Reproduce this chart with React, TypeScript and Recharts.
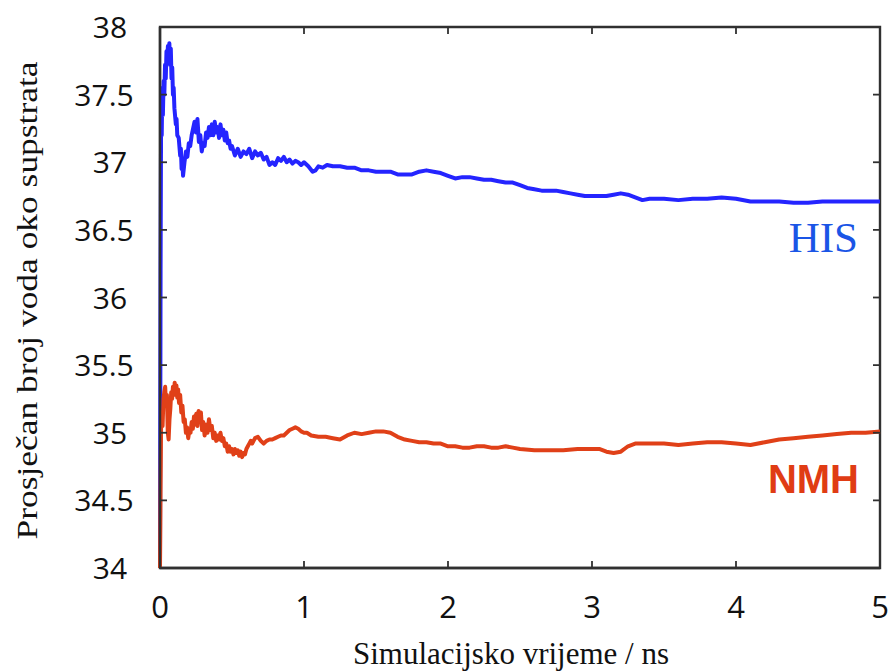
import { Line, LineChart, ReferenceArea, ReferenceDot, XAxis, YAxis } from 'recharts'

const X_TICKS = [0, 1, 2, 3, 4, 5]
const Y_TICKS = [34, 34.5, 35, 35.5, 36, 36.5, 37, 37.5, 38]

// HIS: simulation time (ns) and mean number of waters
const HIS_TIME = [
  0, 0.004, 0.008, 0.012, 0.016, 0.02, 0.025, 0.03, 0.035, 0.04, 0.045, 0.05, 0.055, 0.06, 0.065, 0.07, 0.075,
  0.08, 0.085, 0.09, 0.095, 0.1, 0.11, 0.115, 0.12, 0.13, 0.14, 0.145, 0.15, 0.155, 0.16, 0.17, 0.18, 0.19, 0.2,
  0.21, 0.22, 0.23, 0.24, 0.25, 0.26, 0.27, 0.28, 0.29, 0.3, 0.31, 0.32, 0.33, 0.34, 0.35, 0.36, 0.37, 0.38,
  0.39, 0.4, 0.41, 0.42, 0.43, 0.44, 0.45, 0.46, 0.47, 0.48, 0.49, 0.5, 0.52, 0.54, 0.56, 0.58, 0.6, 0.62, 0.64,
  0.66, 0.68, 0.7, 0.72, 0.74, 0.76, 0.78, 0.8, 0.82, 0.84, 0.86, 0.88, 0.9, 0.92, 0.94, 0.96, 0.98, 1.0, 1.03,
  1.06, 1.08, 1.1, 1.13, 1.16, 1.2, 1.25, 1.3, 1.35, 1.4, 1.45, 1.5, 1.55, 1.6, 1.65, 1.7, 1.75, 1.8, 1.85, 1.9,
  1.95, 2.0, 2.05, 2.1, 2.15, 2.2, 2.25, 2.3, 2.35, 2.4, 2.45, 2.5, 2.55, 2.6, 2.65, 2.7, 2.75, 2.8, 2.85, 2.9,
  2.95, 3.0, 3.05, 3.1, 3.15, 3.2, 3.25, 3.3, 3.35, 3.4, 3.5, 3.6, 3.7, 3.8, 3.9, 4.0, 4.1, 4.2, 4.3, 4.4, 4.5,
  4.6, 4.7, 4.8, 4.9, 5.0,
]
const HIS_WATERS = [
  34.0, 36.2, 37.45, 37.2, 37.55, 37.35, 37.6, 37.5, 37.72, 37.62, 37.82, 37.75, 37.86, 37.78, 37.88, 37.72, 37.84,
  37.62, 37.7, 37.5, 37.55, 37.4, 37.28, 37.32, 37.2, 37.18, 37.05, 37.1, 36.95, 37.02, 36.9, 37.0, 37.08, 37.04, 37.14,
  37.12, 37.2, 37.25, 37.3, 37.22, 37.32, 37.15, 37.2, 37.08, 37.14, 37.12, 37.22, 37.18, 37.26, 37.2, 37.28, 37.2, 37.3,
  37.22, 37.26, 37.18, 37.28, 37.2, 37.24, 37.16, 37.22, 37.14, 37.16, 37.1, 37.12, 37.05, 37.1, 37.04, 37.08, 37.06, 37.1, 37.03,
  37.08, 37.05, 37.07, 37.02, 37.04, 36.98, 37.0, 36.98, 37.03, 37.01, 37.04, 37.0, 37.02, 36.99, 37.01, 37.0, 36.98, 37.0, 36.97,
  36.93, 36.94, 36.97, 36.96, 36.98, 36.97, 36.97, 36.96, 36.96, 36.94, 36.94, 36.93, 36.93, 36.93, 36.91, 36.91, 36.91, 36.93, 36.94, 36.93,
  36.92, 36.9, 36.88, 36.89, 36.89, 36.88, 36.87, 36.87, 36.86, 36.85, 36.85, 36.83, 36.81, 36.8, 36.79, 36.79, 36.79, 36.78, 36.77, 36.76,
  36.75, 36.75, 36.75, 36.75, 36.76, 36.77, 36.76, 36.74, 36.72, 36.73, 36.73, 36.72, 36.73, 36.73, 36.74, 36.73, 36.71, 36.71, 36.71, 36.7, 36.7,
  36.71, 36.71, 36.71, 36.71, 36.71,
]

// NMH: simulation time (ns) and mean number of waters
const NMH_TIME = [
  0, 0.004, 0.008, 0.012, 0.018, 0.024, 0.03, 0.036, 0.042, 0.048, 0.054, 0.06, 0.066, 0.072, 0.078, 0.084, 0.09,
  0.096, 0.102, 0.108, 0.114, 0.12, 0.126, 0.132, 0.14, 0.148, 0.156, 0.164, 0.172, 0.18, 0.188, 0.196, 0.204,
  0.212, 0.22, 0.228, 0.236, 0.244, 0.252, 0.26, 0.268, 0.276, 0.284, 0.292, 0.3, 0.31, 0.32, 0.33, 0.34, 0.35,
  0.36, 0.37, 0.38, 0.39, 0.4, 0.41, 0.42, 0.43, 0.44, 0.45, 0.46, 0.47, 0.48, 0.49, 0.5, 0.51, 0.52, 0.53, 0.54,
  0.55, 0.56, 0.57, 0.58, 0.59, 0.6, 0.61, 0.62, 0.63, 0.64, 0.66, 0.68, 0.7, 0.72, 0.74, 0.76, 0.78, 0.8, 0.82,
  0.84, 0.86, 0.88, 0.9, 0.92, 0.94, 0.96, 0.98, 1.0, 1.02, 1.05, 1.1, 1.15, 1.2, 1.25, 1.3, 1.35, 1.4, 1.45, 1.5,
  1.55, 1.6, 1.65, 1.7, 1.75, 1.8, 1.85, 1.9, 1.95, 2.0, 2.05, 2.1, 2.15, 2.2, 2.25, 2.3, 2.35, 2.4, 2.45, 2.5,
  2.6, 2.7, 2.8, 2.9, 3.0, 3.05, 3.1, 3.15, 3.2, 3.25, 3.3, 3.4, 3.5, 3.6, 3.7, 3.8, 3.9, 4.0, 4.1, 4.2, 4.3, 4.4,
  4.5, 4.6, 4.7, 4.8, 4.9, 5.0,
]
const NMH_WATERS = [
  34.0, 34.6, 35.1, 35.15, 35.05, 35.25, 35.3, 35.34, 35.2, 35.28, 35.0, 34.95, 35.1, 35.18, 35.3, 35.25, 35.34,
  35.28, 35.37, 35.3, 35.35, 35.26, 35.32, 35.22, 35.28, 35.15, 35.2, 35.08, 35.1, 35.0, 35.04, 34.96, 35.02,
  35.0, 35.08, 35.03, 35.12, 35.06, 35.14, 35.05, 35.16, 35.08, 35.15, 35.02, 35.08, 34.98, 35.06, 35.0, 35.1, 35.02,
  35.05, 34.96, 35.0, 34.94, 34.98, 34.95, 35.0, 34.94, 34.96, 34.9, 34.92, 34.86, 34.9, 34.86, 34.88, 34.84, 34.88, 34.85, 34.87,
  34.83, 34.86, 34.82, 34.85, 34.84, 34.88, 34.9, 34.92, 34.94, 34.92, 34.96, 34.97, 34.94, 34.92, 34.94, 34.95, 34.95, 34.96, 34.97,
  34.98, 34.98, 35.0, 35.02, 35.03, 35.04, 35.03, 35.01, 35.0, 35.0, 34.98, 34.97, 34.97, 34.96, 34.95, 34.98, 35.0, 34.99, 35.0, 35.01,
  35.01, 35.0, 34.97, 34.95, 34.94, 34.93, 34.93, 34.92, 34.92, 34.9, 34.9, 34.89, 34.89, 34.9, 34.9, 34.89, 34.89, 34.9, 34.89, 34.88,
  34.87, 34.87, 34.87, 34.88, 34.88, 34.88, 34.86, 34.85, 34.86, 34.9, 34.92, 34.92, 34.92, 34.91, 34.92, 34.93, 34.93, 34.92, 34.91, 34.93, 34.95, 34.96,
  34.97, 34.98, 34.99, 35.0, 35.0, 35.01,
]

const hisData = HIS_TIME.map((t, i) => ({ t, v: HIS_WATERS[i] }))
const nmhData = NMH_TIME.map((t, i) => ({ t, v: NMH_WATERS[i] }))

const WIDTH = 892
const HEIGHT = 671
const MARGIN = { top: 27, right: 12, bottom: 0, left: 100 }
const PLOT_TOP = MARGIN.top
const PLOT_RIGHT = WIDTH - MARGIN.right

const AXIS = '#303030'
const FRAME_W = 2.4
const TICK_LEN = 7
const TICK_FONT = '"Open Sans", "DejaVu Sans", sans-serif'
const SERIF = '"Liberation Serif", "DejaVu Serif", serif'

// bottom tick: inward tick on bottom and top edge + label
function BottomTick({ x, y, payload }: any) {
  return (
    <g>
      <line x1={x} y1={y} x2={x} y2={y - TICK_LEN} stroke={AXIS} strokeWidth={1.8} />
      <line x1={x} y1={PLOT_TOP} x2={x} y2={PLOT_TOP + TICK_LEN} stroke={AXIS} strokeWidth={1.8} />
      <text x={x} y={y + 50} textAnchor="middle" fontSize={31} fontFamily={TICK_FONT} fill="#111">
        {payload.value}
      </text>
    </g>
  )
}

// left tick: inward tick on left and right edge + label
function LeftTick({ x, y, payload }: any) {
  const whole = Number.isInteger(payload.value)
  return (
    <g>
      <line x1={x} y1={y} x2={x + TICK_LEN} y2={y} stroke={AXIS} strokeWidth={1.8} />
      <line x1={PLOT_RIGHT} y1={y} x2={PLOT_RIGHT - TICK_LEN} y2={y} stroke={AXIS} strokeWidth={1.8} />
      <text x={whole ? 110 : 104} y={y + 11} textAnchor="middle" fontSize={30} fontFamily={TICK_FONT} fill="#111">
        {payload.value}
      </text>
    </g>
  )
}

function YTitle({ viewBox }: any) {
  const cx = 37
  const cy = viewBox.y + viewBox.height / 2 + 3
  return (
    <text
      x={cx}
      y={cy}
      transform={`rotate(-90 ${cx} ${cy})`}
      textAnchor="middle"
      fontSize={30}
      fontFamily={SERIF}
      fill="#111"
      textLength={478}
      lengthAdjust="spacingAndGlyphs"
    >
      Prosječan broj voda oko supstrata
    </text>
  )
}

function XTitle({ viewBox }: any) {
  return (
    <text
      x={viewBox.x + viewBox.width / 2 - 9}
      y={viewBox.y + 96}
      textAnchor="middle"
      fontSize={31}
      fontFamily={SERIF}
      fill="#111"
    >
      Simulacijsko vrijeme / ns
    </text>
  )
}

function App() {
  return (
    <div style={{ position: 'absolute', left: 0, top: 0, background: '#fff' }}>
      <LineChart width={WIDTH} height={HEIGHT} margin={MARGIN}>
        <XAxis
          dataKey="t"
          type="number"
          domain={[0, 5]}
          ticks={X_TICKS}
          height={103}
          tickSize={0}
          tickMargin={0}
          tick={<BottomTick />}
          axisLine={{ stroke: AXIS, strokeWidth: FRAME_W }}
          label={XTitle}
        />
        <YAxis
          type="number"
          domain={[34, 38]}
          ticks={Y_TICKS}
          width={60}
          tickSize={0}
          tickMargin={0}
          tick={<LeftTick />}
          axisLine={{ stroke: AXIS, strokeWidth: FRAME_W }}
          label={YTitle}
        />
        <Line
          data={hisData}
          dataKey="v"
          type="linear"
          stroke="#2424ff"
          strokeWidth={4}
          strokeLinejoin="round"
          dot={false}
          activeDot={false}
          isAnimationActive={false}
        />
        <Line
          data={nmhData}
          dataKey="v"
          type="linear"
          stroke="#e04018"
          strokeWidth={4}
          strokeLinejoin="round"
          dot={false}
          activeDot={false}
          isAnimationActive={false}
        />
        <ReferenceArea x1={0} x2={5} y1={34} y2={38} fill="none" stroke={AXIS} strokeWidth={FRAME_W} />
        <ReferenceDot
          x={4.847}
          y={36.336}
          r={0}
          shape={(p: any) => (
            <text x={p.cx} y={p.cy} textAnchor="end" fontSize={43} fontFamily={SERIF} fill="#1a55e6">
              HIS
            </text>
          )}
        />
        <ReferenceDot
          x={4.854}
          y={34.555}
          r={0}
          shape={(p: any) => (
            <text
              x={p.cx}
              y={p.cy}
              textAnchor="end"
              fontSize={40}
              fontWeight="bold"
              fontFamily='"Liberation Sans", Arial, sans-serif'
              fill="#e03c14"
            >
              NMH
            </text>
          )}
        />
      </LineChart>
    </div>
  )
}

export default App
